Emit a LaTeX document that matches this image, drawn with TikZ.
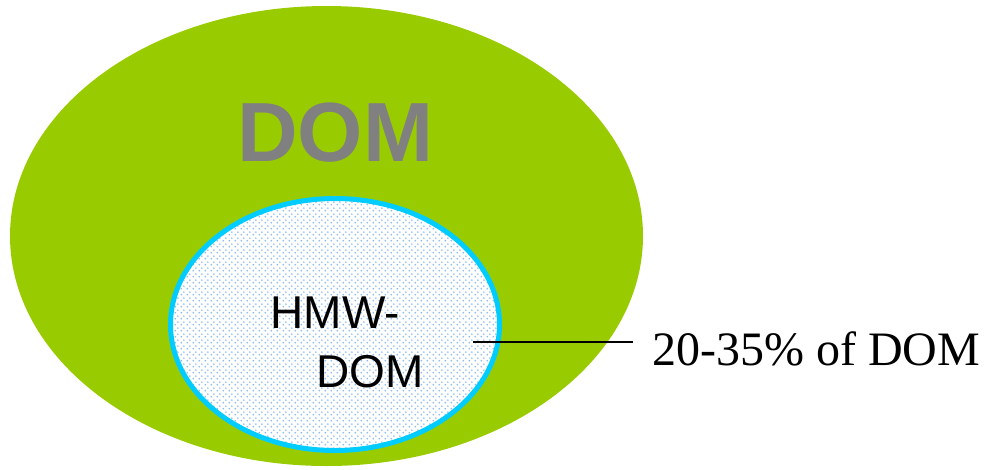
\documentclass[tikz,border=0pt]{standalone}
\usepackage{fontspec}
\setmainfont{Liberation Serif}
\setsansfont{Liberation Sans}
\usepackage{tikz}
\usetikzlibrary{shapes.geometric,patterns.meta}
\definecolor{domgreen}{HTML}{99CC00}
\definecolor{rimcyan}{HTML}{00CCFF}
\definecolor{dotblue}{HTML}{8CBCF0}
\definecolor{domgray}{HTML}{808080}
\newcommand{\rim}{5pt}

% staggered light dots for the inner fraction
\tikzdeclarepattern{
  name=hmwdots, type=uncolored,
  bounding box={(0,0) and (6pt,6pt)},
  tile size={(6pt,6pt)},
  code={
    \fill (1.5pt,1.5pt) circle (1.1pt);
    \fill (4.5pt,4.5pt) circle (1.1pt);
  }
}

\begin{document}
\begin{tikzpicture}[x=1pt,y=-1pt]
\useasboundingbox (0,0) rectangle (985,469);
%outer pool
\node[ellipse, fill=domgreen, minimum width=633pt, minimum height=460pt, inner sep=0pt] (dom) at (326.5, 236) {};
\node[font=\sffamily\bfseries\fontsize{84}{84}\selectfont, text=domgray] (domlabel) at (335, 133) {DOM};
%high molecular weight fraction
\node[ellipse, draw=rimcyan, line width=\rim, preaction={fill=white}, pattern={hmwdots}, pattern color=dotblue,
      minimum width=329pt, minimum height=252pt, inner sep=0pt] (hmw) at (335, 324.5) {};
\node[font=\sffamily\fontsize{46}{46}\selectfont, anchor=base west] (hmwtop) at (267, 328) {HMW-};
\node[font=\sffamily\fontsize{46}{46}\selectfont, anchor=base west] (hmwbot) at (313, 387) {DOM};
%share of the pool
\coordinate (tick) at (473, 342);
\node[font=\fontsize{48}{48}\selectfont, anchor=west, inner sep=0pt] (share) at (652, 349) {20-35\% of DOM};
\draw[line width=2pt] (tick) -- ([xshift=-19pt]share.west |- tick);
\end{tikzpicture}
\end{document}
